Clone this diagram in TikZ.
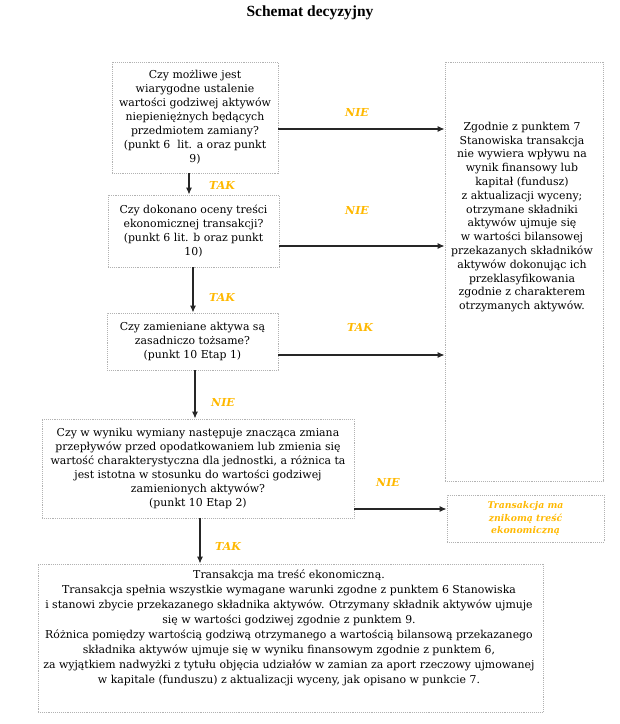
\documentclass[tikz,border=0pt]{standalone}
\usepackage{fontspec}
\setmainfont{DejaVu Serif}
\newfontfamily\titlefont{Liberation Serif}
\usetikzlibrary{arrows.meta}
\definecolor{decyzja}{RGB}{255,184,0}

\begin{document}
\begin{tikzpicture}[
			x=1pt, y=-1pt,
			box/.style={draw=black!30, densely dotted, line width=0.9pt, inner sep=0pt},
			txt/.style={align=center, font=\fontsize{10.9}{14}\selectfont},
			lbl/.style={text=decyzja, font=\fontsize{11}{12}\selectfont\bfseries\itshape},
			arr/.style={-{Latex[length=7pt,width=6pt]}, line width=1.1pt, black!85}
			]
			\useasboundingbox (0,0) rectangle (620,724);
			\node[font=\titlefont\bfseries\fontsize{15.5}{18}\selectfont] (title) at (310,13) {Schemat decyzyjny};

			\node[box, txt, minimum width=166pt, minimum height=111pt] (b1) at (195,117.5)
				{Czy możliwe jest\\wiarygodne ustalenie\\wartości godziwej aktywów\\niepieniężnych będących\\przedmiotem zamiany?\\(punkt 6\ \ lit. a oraz punkt\\9)};
			\node[box, txt, minimum width=171pt, minimum height=72pt] (b2) at (193.5,231)
				{Czy dokonano oceny treści\\ekonomicznej transakcji?\\(punkt 6 lit. b oraz punkt\\10)};
			\node[box, txt, minimum width=171pt, minimum height=57pt] (b3) at (192.5,341.5)
				{Czy zamieniane aktywa są\\zasadniczo tożsame?\\(punkt 10 Etap 1)};
			\node[box, txt, minimum width=312pt, minimum height=99pt] (b4) at (198,468.5)
				{Czy w wyniku wymiany następuje znacząca zmiana\\przepływów przed opodatkowaniem lub zmienia się\\wartość charakterystyczna dla jednostki, a różnica ta\\jest istotna w stosunku do wartości godziwej\\zamienionych aktywów?\\(punkt 10 Etap 2)};
			\node[box, minimum width=505pt, minimum height=148pt] (b5) at (290.5,638) {};
			\node[txt, font=\fontsize{10.9}{15}\selectfont] (b5txt) at (289,628)
				{Transakcja ma treść ekonomiczną.\\Transakcja spełnia wszystkie wymagane warunki zgodne z punktem 6 Stanowiska\\i stanowi zbycie przekazanego składnika aktywów. Otrzymany składnik aktywów ujmuje\\się w wartości godziwej zgodnie z punktem 9.\\Różnica pomiędzy wartością godziwą otrzymanego a wartością bilansową przekazanego\\składnika aktywów ujmuje się w wyniku finansowym zgodnie z punktem 6,\\za wyjątkiem nadwyżki z tytułu objęcia udziałów w zamian za aport rzeczowy ujmowanej\\w kapitale (funduszu) z aktualizacji wyceny, jak opisano w punkcie 7.};

			\node[box, minimum width=158pt, minimum height=419pt] (rbox) at (524,271.5) {};
			\node[txt, font=\fontsize{10.9}{13.8}\selectfont] (rtxt) at (522,217)
				{Zgodnie z punktem 7\\Stanowiska transakcja\\nie wywiera wpływu na\\wynik finansowy lub\\kapitał (fundusz)\\z aktualizacji wyceny;\\otrzymane składniki\\aktywów ujmuje się\\w wartości bilansowej\\przekazanych składników\\aktywów dokonując ich\\przeklasyfikowania\\zgodnie z charakterem\\otrzymanych aktywów.};
			\node[box, align=center, text=decyzja, font=\fontsize{9.3}{12.5}\selectfont\bfseries\itshape,
				minimum width=157pt, minimum height=47pt] (sbox) at (525.5,518.5)
				{Transakcja ma\\znikomą treść\\ekonomiczną};

			\draw[arr] (b1.east |- 0,129) -- (rbox.west |- 0,129);
			\draw[arr] (b2.east |- 0,246) -- (rbox.west |- 0,246);
			\draw[arr] (b3.east |- 0,355) -- (rbox.west |- 0,355);
			\draw[arr] (b4.east |- 0,509) -- (sbox.west |- 0,509);
			\draw[arr] (b1.south -| 189,0) -- (b2.north -| 189,0);
			\draw[arr] (b2.south -| 193,0) -- (b3.north -| 193,0);
			\draw[arr] (b3.south -| 195,0) -- (b4.north -| 195,0);
			\draw[arr] (b4.south -| 200,0) -- (b5.north -| 200,0);

			\node[lbl] (nie1) at (357,112) {NIE};
			\node[lbl] (nie2) at (357,210) {NIE};
			\node[lbl] (tak3) at (360,327) {TAK};
			\node[lbl] (nie4) at (388,482) {NIE};
			\node[lbl] (tak1) at (222,185) {TAK};
			\node[lbl] (tak2) at (222,297) {TAK};
			\node[lbl] (nie3) at (223,402) {NIE};
			\node[lbl] (tak4) at (228,546) {TAK};
		\end{tikzpicture}
\end{document}
